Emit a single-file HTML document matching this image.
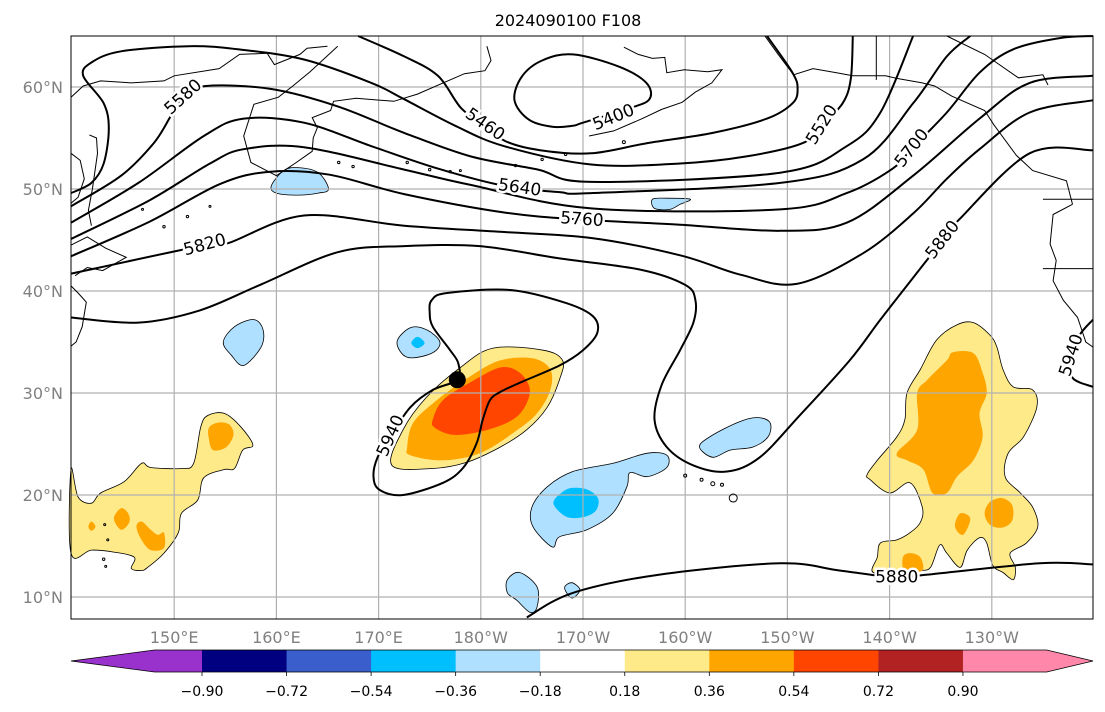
<!DOCTYPE html>
<html><head><meta charset="utf-8">
<style>
html,body{margin:0;padding:0;background:#fff;}
svg{display:block;font-family:"DejaVu Sans","Liberation Sans",sans-serif;}
</style></head>
<body>
<svg id="chart" xmlns="http://www.w3.org/2000/svg" width="1105" height="712" viewBox="0 0 1105 712">
<rect x="0" y="0" width="1105" height="712" fill="#fff"/>
<text x="568" y="26" text-anchor="middle" font-size="16" fill="#000">2024090100 F108</text>
<g id="fills"></g>
<g id="grid"></g>
<g id="coast"></g>
<g id="contours"></g>
<g id="labels"></g>
<rect x="71" y="36" width="1022" height="583" fill="none" stroke="#000" stroke-width="1"/>
<g id="axes"></g>
<g id="cbar"></g>
</svg>
<script>
// ---- axis extents ----
const lonMin = 140, lonMax = 240, latMin = 7.84, latMax = 65;
const lonTicks = [150,160,170,180,190,200,210,220,230];
const lonTickLabels = ["150°E","160°E","170°E","180°W","170°W","160°W","150°W","140°W","130°W"];
const latTicks = [60,50,40,30,20,10];
const latTickLabels = ["60°N","50°N","40°N","30°N","20°N","10°N"];

// ---- contour data (lon east, lat) ----
const contourLevels = [5460,5400,5520,5580,5640,5700,5760,5820,5880,5940,5940,5880];
const c5460 = [[168.0,65],[172.5,63.0],[175.8,61.1],[178.1,57.9],[180.4,56.3],[182.4,54.7],[185.8,53.8],[190.8,53.5],[196.3,54.5],[202.7,55.5],[208.0,56.9],[210.5,58.4],[211.0,59.8],[210.5,61.4],[208.0,65]];
const c5400 = [[183.3,58.7],[184.0,61.0],[186.0,62.6],[189.0,63.2],[193.5,62.0],[196.2,60.4],[196.5,58.8],[194.5,57.9],[190.0,56.5],[189.0,56.2],[187.0,56.1],[184.7,56.8],[183.3,58.7]];
const c5520 = [[139.9,49.6],[141.9,50.6],[143.1,52.5],[143.6,55.9],[143.1,58.4],[141.1,61.1],[141.9,62.4],[144.8,63.5],[151.4,64.0],[156.2,63.7],[162.7,62.7],[169.3,60.4],[172.5,58.8],[177.5,56.2],[182.3,54.2],[190.8,52.4],[199.5,52.5],[206.0,53.2],[211.5,54.5],[213.4,56.3],[215.4,58.4],[216.2,60.8],[216.4,65]];
const c5580 = [[139.9,48.3],[144.8,51.3],[148.0,54.5],[149.7,57.2],[150.9,59.0],[153.1,60.1],[159.5,59.8],[166.0,58.1],[172.5,55.5],[179.0,53.2],[185.6,51.9],[190.8,50.7],[209.3,51.6],[215.8,54.2],[219.1,57.5],[222.3,65]];
const c5640 = [[139.9,46.7],[146.5,50.6],[152.9,55.2],[156.8,56.9],[162.7,56.5],[169.3,54.2],[175.8,52.0],[182.3,50.3],[187.7,49.7],[190.8,49.6],[209.3,50.6],[217.4,52.9],[222.3,58.4],[225.6,63.0],[227.9,65]];
const c5700 = [[139.9,45.1],[147.6,48.9],[153.5,52.5],[156.8,53.9],[162.7,54.1],[172.5,51.9],[179.0,50.4],[190.8,48.1],[209.3,48.0],[215.8,49.6],[220.3,52.0],[222.2,54.0],[225.6,57.5],[228.8,61.4],[232.1,63.7],[236.7,64.8],[239.9,65]];
const c5760 = [[139.9,43.4],[147.6,46.8],[154.5,50.5],[159.4,51.7],[165.2,51.4],[172.5,49.5],[182.3,47.7],[189.9,47.0],[199.5,46.5],[209.3,45.9],[215.8,46.7],[222.3,51.3],[228.8,56.9],[233.7,60.4],[239.9,61.1]];
const c5820 = [[139.9,41.7],[153.0,44.5],[155.3,44.7],[162.7,47.4],[172.5,46.4],[181.9,45.8],[190.8,45.2],[199.5,43.5],[205.4,41.6],[210.9,40.7],[217.4,43.7],[222.3,47.6],[225.6,51.0],[228.8,53.9],[233.7,57.5],[239.9,58.7]];
const c5880 = [[139.9,37.4],[146.5,36.9],[152.5,38.1],[158.4,40.6],[166.0,43.8],[172.5,44.4],[179.9,44.4],[187.7,43.2],[195.6,42.1],[200.0,40.6],[201.0,39.1],[200.8,36.9],[199.5,34.2],[197.7,30.8],[197.0,27.4],[198.2,24.7],[200.8,22.9],[204.1,22.3],[207.3,23.7],[211.2,27.8],[216.1,33.2],[219.1,37.2],[222.3,41.3],[225.2,45.0],[226.9,47.1],[233.7,53.5],[239.9,53.8]];
const c5940a = [[175.0,37.9],[175.2,39.1],[176.7,39.8],[182.9,40.1],[188.4,38.8],[191.0,37.5],[191.4,35.9],[190.0,34.2],[187.7,32.7],[183.8,31.0],[181.9,30.1],[180.9,29.3],[180.2,27.4],[179.6,25.1],[178.3,22.7],[176.3,21.2],[172.4,20.0],[170.1,20.5],[169.5,21.8],[169.9,23.7],[171.2,25.8],[173.1,28.6],[175.3,30.3],[177.7,31.3],[177.8,32.9],[177.0,34.2],[175.3,36.5],[175.0,37.9]];
const c5940b = [[239.9,37.2],[238.6,35.7],[237.8,33.7],[237.9,31.5],[239.9,30.6]];
const c5880s = [[184.5,8.0],[189.0,10.4],[197.5,12.2],[209.3,13.3],[215.1,12.6],[220.7,11.9],[223.7,12.2],[234.7,13.3],[239.9,13.2]];
const contourLines = [c5460,c5400,c5520,c5580,c5640,c5700,c5760,c5820,c5880,c5940a,c5940b,c5880s];
const contourClosed = [false,true,false,false,false,false,false,false,false,true,false,false];

const labelText = ["5580","5460","5400","5520","5640","5700","5760","5820","5880","5940","5940","5880"];
const labelPos = [[150.9,59.0],[180.4,56.3],[193.0,57.0],[213.4,56.3],[183.8,50.1],[222.2,54.0],[189.9,47.0],[153.0,44.5],[225.2,45.0],[237.8,33.7],[171.2,25.8],[220.7,11.9]];
const labelAngle = [-42,35,-22,-58,8,-52,4,-15,-52,-72,-66,0];

const centerDot = [177.7,31.3];

// ---- anomaly fill data ----
const yellowMain = [[171.3,22.9],[172.4,26.4],[174.7,29.6],[178.0,32.5],[181.2,34.4],[186.1,34.2],[188.0,33.2],[187.7,31.3],[186.5,28.6],[184.5,26.4],[181.9,24.7],[178.6,23.2],[175.3,22.6]];
const orangeMain = [[172.8,24.7],[173.4,27.1],[175.7,29.3],[178.9,31.6],[181.9,33.2],[185.1,33.4],[186.8,32.3],[186.8,30.3],[185.5,28.0],[183.2,26.1],[179.9,24.1],[176.3,23.4],[173.1,23.9]];
const redMain = [[175.3,27.4],[176.3,29.3],[178.9,31.0],[181.9,32.5],[183.8,32.0],[184.8,30.3],[184.1,28.3],[182.6,27.1],[179.9,26.2],[177.3,25.9],[175.5,26.6]];
const yellowWest = [[139.9,22.5],[140.6,19.8],[141.9,19.2],[142.8,20.2],[145.1,21.3],[146.8,23.1],[147.7,22.7],[150.7,22.6],[151.9,23.1],[152.6,26.7],[153.3,27.8],[154.9,28.0],[156.5,26.7],[157.7,24.9],[156.7,24.4],[155.9,22.6],[154.9,22.5],[152.9,21.7],[152.3,19.5],[150.7,18.2],[150.4,16.3],[149.0,14.3],[147.4,12.9],[146.8,12.6],[145.8,12.8],[146.1,13.9],[144.1,14.4],[141.9,14.6],[139.9,14.3]];
const orangeWestA = [[153.4,26.6],[154.3,27.1],[155.4,26.9],[155.8,25.9],[155.1,24.7],[153.8,24.4],[153.4,25.5]];
const orangeWestB = [[144.1,17.7],[144.8,18.7],[145.5,18.2],[145.6,17.3],[144.8,16.6]];
const orangeWestC = [[146.3,16.9],[146.8,17.4],[147.7,16.6],[148.4,16.1],[149.0,16.3],[149.0,14.8],[147.7,14.6],[146.8,15.6]];
const orangeWestD = [[141.6,16.9],[141.9,17.4],[142.3,16.9],[141.9,16.5]];
const yellowEast = [[217.8,22.0],[218.8,23.4],[220.7,25.7],[221.5,27.4],[221.7,30.0],[223.0,32.3],[224.6,35.2],[226.6,36.7],[228.2,36.9],[229.8,35.7],[230.5,34.5],[231.1,32.3],[232.1,30.6],[234.0,30.3],[234.4,28.6],[233.1,25.7],[231.6,24.1],[231.3,21.8],[232.8,20.2],[234.0,18.8],[234.5,16.9],[233.4,15.3],[231.8,14.3],[232.3,12.9],[232.1,11.7],[231.1,12.4],[230.1,13.1],[229.5,15.3],[228.8,15.8],[227.6,14.6],[226.9,12.9],[225.6,14.3],[224.9,15.1],[224.0,12.9],[223.0,12.6],[221.3,12.4],[218.4,12.4],[218.8,13.9],[219.1,15.3],[220.7,15.6],[222.0,16.3],[223.0,17.3],[223.2,18.8],[222.0,21.2],[220.0,20.2],[218.1,21.5]];
const orangeEastA = [[220.7,24.1],[222.7,26.4],[222.7,30.0],[223.7,31.3],[225.6,33.2],[226.2,34.0],[228.2,33.9],[229.1,32.0],[229.5,30.0],[228.8,28.0],[229.1,25.7],[228.2,23.4],[226.6,21.8],[225.6,20.2],[224.2,20.2],[223.3,22.5],[221.7,23.4]];
const orangeEastB = [[229.3,18.2],[229.8,19.3],[231.0,19.7],[232.0,19.0],[232.0,17.5],[231.0,16.8],[229.8,17.1]];
const orangeEastC = [[226.4,16.9],[226.9,18.2],[227.9,17.7],[227.2,16.1]];
const orangeEastD = [[221.3,13.9],[222.0,14.3],[223.0,13.9],[223.2,12.6],[221.5,12.5]];
const blueA = [[171.8,35.0],[173.1,36.4],[174.7,36.2],[176.0,35.0],[175.2,33.9],[172.8,33.5]];
const deepA = [[173.2,34.9],[173.8,35.5],[174.5,34.9],[173.8,34.4]];
const blueB = [[185.0,18.8],[186.5,20.8],[189.0,22.3],[192.9,23.1],[196.3,24.1],[198.2,23.9],[198.2,22.7],[196.3,21.8],[194.6,22.2],[194.3,20.8],[192.9,18.2],[190.4,16.6],[187.7,15.9],[187.0,14.9],[185.1,16.9]];
const deepB = [[187.1,19.2],[188.0,20.3],[189.0,20.7],[190.5,20.5],[191.5,19.6],[191.2,18.4],[189.9,17.8],[188.3,17.9]];
const blueC = [[201.4,24.7],[202.4,25.7],[205.1,27.1],[207.0,27.6],[208.3,27.1],[208.1,25.7],[206.6,24.7],[204.4,24.4],[202.7,23.7]];
const blueD = [[182.6,11.7],[183.8,12.4],[185.5,11.0],[185.5,9.0],[184.8,8.5],[183.5,9.7],[182.6,10.4]];
const blueE = [[188.2,10.9],[188.9,11.4],[189.7,10.7],[188.9,9.9]];
const blueF = [[154.8,35.0],[155.9,36.5],[157.8,37.2],[158.7,36.2],[158.5,34.5],[156.8,32.7],[155.6,33.7]];
const blueG = [[159.5,50.3],[160.7,51.8],[162.1,52.1],[164.1,51.6],[165.1,50.0],[164.1,49.6],[162.1,49.4],[160.0,49.6]];
const blueH = [[196.8,49.0],[198.2,49.1],[200.5,49.0],[199.5,48.5],[198.5,48.0],[197.0,48.1]];

// ---- colorbar data ----
const cbBounds = [-0.90,-0.72,-0.54,-0.36,-0.18,0.18,0.36,0.54,0.72,0.90];
const cbTickLabels = ["−0.90","−0.72","−0.54","−0.36","−0.18","0.18","0.36","0.54","0.72","0.90"];
const cbColors = ["#9932cc","#000080","#3a5fcd","#00bfff","#b0e0ff","#ffffff","#ffea8a","#ffa500","#ff4500","#b22222","#ff88aa"];

// ---- coastlines (lon, lat) ----
const coastLines = [
 [[139.9,59.0],[141.1,60.1],[142.8,60.6],[145.8,60.4],[149.0,60.6],[150.0,61.1],[154.4,61.8],[156.4,63.2],[159.1,63.3],[159.8,62.2],[162.3,63.2],[163.0,63.8],[165.0,64.0]],
 [[166.0,64.0],[163.3,61.5],[161.6,60.1],[160.2,59.0],[157.8,58.3],[156.8,55.2],[157.5,52.6],[160.0,51.3],[161.8,52.5],[163.5,53.7],[163.6,55.0],[164.0,56.0],[163.5,57.0],[165.3,57.7],[165.6,58.6],[167.8,58.9],[171.5,58.6],[173.8,59.3],[178.4,61.3],[180.4,61.6],[181.0,62.6],[180.6,64.0]],
 [[141.7,55.3],[142.4,55.0],[142.5,53.5],[142.0,50.0],[141.6,47.9],[141.9,46.4]],
 [[139.9,44.5],[141.5,45.3],[143.3,44.2],[145.3,43.3],[143.0,42.0],[141.5,42.3],[140.3,41.5]],
 [[139.9,40.5],[140.6,39.8],[141.4,38.9],[141.0,36.5],[140.4,35.0],[139.9,34.6]],
 [[139.9,53.5],[140.8,52.8],[141.2,51.0],[140.6,49.2],[139.9,48.6]],
 [[194.0,63.9],[195.4,63.2],[196.8,62.8],[198.0,62.9],[198.2,61.4],[199.9,61.7],[202.2,61.5],[203.6,61.7],[202.6,60.4],[201.0,59.5],[199.7,58.5],[197.7,57.8],[195.8,56.9],[193.0,55.7],[190.6,55.2]],
 [[207.8,65],[209.1,63.2],[210.6,61.2],[212.5,61.8],[214.8,61.4],[216.4,61.1],[219.6,61.1],[220.9,60.8],[223.2,60.4],[224.4,60.1],[226.1,59.1],[229.3,57.7],[230.2,56.3],[232.4,53.3],[234.0,51.8],[237.3,50.8],[237.9,48.5]],
 [[218.7,65],[218.7,60.7]],
 [[225.6,65],[229.3,63.2],[232.6,60.9],[235.0,61.2],[235.5,60.2]],
 [[237.9,48.5],[236.0,47.5],[235.7,44.6],[236.3,43.0],[236.0,41.0],[237.0,39.1],[238.4,37.4],[239.2,35.0],[239.9,34.5]],
 [[235.0,49.0],[239.9,49.0]],
 [[235.0,42.2],[239.9,42.2]]
];
const islandDots = [[200.0,21.9,1.5],[201.6,21.5,1.5],[202.7,21.1,2],[203.6,21.0,1.5],[204.7,19.7,4],[166.1,52.6,1.2],[167.5,52.2,1.2],[172.8,52.6,1.2],[175.0,51.9,1.2],[177.0,51.7,1.2],[178.0,51.8,1],[183.4,52.3,1.2],[186.0,52.9,1.2],[188.3,53.4,1.2],[194.0,54.6,1.5],[146.9,48.0,1],[149.0,46.3,1.2],[151.3,47.3,1.2],[153.5,48.3,1],[143.2,17.1,1],[143.5,15.6,1],[143.1,13.7,1.2],[143.3,13.0,1]];

// ---- scales ----
function X(lon){ return 72 + (lon - lonMin) * 10.22; }
function Y(lat){ return 36 + (latMax - lat) * 10.2; }
function smoothPath(arr, closed){
  const p = arr.map(a => [X(a[0]), Y(a[1])]);
  if (closed && p.length>2){ const f=p[0], l=p[p.length-1]; if (Math.abs(f[0]-l[0])<0.01 && Math.abs(f[1]-l[1])<0.01) p.pop(); }
  const n = p.length;
  const get = i => closed ? p[(i+n)%n] : p[Math.max(0,Math.min(n-1,i))];
  let d = 'M'+p[0][0].toFixed(1)+','+p[0][1].toFixed(1);
  const segs = closed ? n : n-1;
  for (let i=0;i<segs;i++){
    const p0=get(i-1), p1=get(i), p2=get(i+1), p3=get(i+2);
    const c1=[p1[0]+(p2[0]-p0[0])/6, p1[1]+(p2[1]-p0[1])/6];
    const c2=[p2[0]-(p3[0]-p1[0])/6, p2[1]-(p3[1]-p1[1])/6];
    d += ' C'+c1[0].toFixed(1)+','+c1[1].toFixed(1)+' '+c2[0].toFixed(1)+','+c2[1].toFixed(1)+' '+p2[0].toFixed(1)+','+p2[1].toFixed(1);
  }
  if (closed) d += ' Z';
  return d;
}
function pts(arr){ return arr.map(p => X(p[0]).toFixed(1)+','+Y(p[1]).toFixed(1)).join(' '); }
const NS = 'http://www.w3.org/2000/svg';
function mk(tag, attrs, parent){ const e=document.createElementNS(NS,tag); for(const k in attrs) e.setAttribute(k,attrs[k]); parent.appendChild(e); return e; }

// fills
const fillsG = document.getElementById('fills');
function poly(arr, fill, stroke, name){
  const e = mk('path',{d:smoothPath(arr,true),fill:fill,stroke:stroke?'#000':'none','stroke-width':stroke?0.8:0,'stroke-linejoin':'round'},fillsG);
  
  
}
poly(yellowMain,'#ffea8a',true,'fill-yellow-central');
poly(orangeMain,'#ffa500',false,'fill-orange-central');
poly(redMain,'#ff4500',false,'fill-red-central');
poly(yellowWest,'#ffea8a',true,'fill-yellow-west');
poly(orangeWestA,'#ffa500',false,'fill-orange-west-a');
poly(orangeWestB,'#ffa500',false,'fill-orange-west-b');
poly(orangeWestC,'#ffa500',false,'fill-orange-west-c');
poly(orangeWestD,'#ffa500',false,'fill-orange-west-d');
poly(yellowEast,'#ffea8a',true,'fill-yellow-east');
poly(orangeEastA,'#ffa500',false,'fill-orange-east-a');
poly(orangeEastB,'#ffa500',false,'fill-orange-east-b');
poly(orangeEastC,'#ffa500',false,'fill-orange-east-c');
poly(orangeEastD,'#ffa500',false,'fill-orange-east-d');
poly(blueA,'#b0e0ff',true,'fill-blue-a');
poly(deepA,'#00bfff',false,'fill-deepblue-a');
poly(blueB,'#b0e0ff',true,'fill-blue-b');
poly(deepB,'#00bfff',false,'fill-deepblue-b');
poly(blueC,'#b0e0ff',true,'fill-blue-c');
poly(blueD,'#b0e0ff',true,'fill-blue-d');
poly(blueE,'#b0e0ff',true,'fill-blue-e');
poly(blueF,'#b0e0ff',true,'fill-blue-f');
poly(blueG,'#b0e0ff',true,'fill-blue-g');
poly(blueH,'#b0e0ff',true,'fill-blue-h');

// grid
const gridG = document.getElementById('grid');
lonTicks.forEach(l => {
  const e = mk('line',{x1:X(l),x2:X(l),y1:36,y2:619,stroke:'#b0b0b0','stroke-width':1.2},gridG);
  
  
});
latTicks.forEach(l => {
  const e = mk('line',{x1:71,x2:1093,y1:Y(l),y2:Y(l),stroke:'#b0b0b0','stroke-width':1.2},gridG);
  
  
});

// coast
const coastG = document.getElementById('coast');
coastLines.forEach(c => {
  const e = mk('polyline',{points:pts(c),fill:'none',stroke:'#000','stroke-width':1},coastG);
  
  
});
islandDots.forEach(d => {
  const e = mk('circle',{cx:X(d[0]),cy:Y(d[1]),r:d[2],fill:'none',stroke:'#000','stroke-width':1},coastG);
  
  
});

// contours
const contG = document.getElementById('contours');
contourLines.forEach((c,i) => {
  const e = mk('path',{d:smoothPath(c,contourClosed[i]),fill:'none',stroke:'#000','stroke-width':2,'stroke-linejoin':'round'},contG);
  
  
});
const dot = mk('circle',{cx:X(centerDot[0]),cy:Y(centerDot[1]),r:8.5,fill:'#000'},contG);



// contour labels
const labG = document.getElementById('labels');
labelText.forEach((t,i) => {
  const x = X(labelPos[i][0]), y = Y(labelPos[i][1]);
  const e = mk('text',{x:x,y:y,'text-anchor':'middle','dominant-baseline':'central','font-size':17,fill:'#000',stroke:'#fff','stroke-width':5,'paint-order':'stroke',transform:'rotate('+labelAngle[i]+' '+x+' '+y+')'},labG);
  e.textContent = t;
  
  
});

// axes labels
const axG = document.getElementById('axes');
lonTicks.forEach((l,i) => {
  const e = mk('text',{x:X(l),y:643,'text-anchor':'middle','font-size':16,fill:'#808080'},axG);
  e.textContent = lonTickLabels[i];
  
  
});
latTicks.forEach((l,i) => {
  const e = mk('text',{x:63,y:Y(l)+6,'text-anchor':'end','font-size':16,fill:'#808080'},axG);
  e.textContent = latTickLabels[i];
  
  
});

// colorbar
const cbG = document.getElementById('cbar');
const cbX0 = 202, cbW = 84.55, cbTop = 650, cbBot = 672;
function CBX(k){ return cbX0 + k * cbW; }
const nB = cbBounds.length;
const leftTri = mk('polygon',{points:`71,661 ${CBX(-0.56)},${cbTop} ${CBX(0)},${cbTop} ${CBX(0)},${cbBot} ${CBX(-0.56)},${cbBot}`,fill:cbColors[0]},cbG);


for(let k=0;k<nB-1;k++){
  const e = mk('rect',{x:CBX(k),y:cbTop,width:cbW+0.5,height:cbBot-cbTop,fill:cbColors[k+1]},cbG);
  
  
}
const rightTri = mk('polygon',{points:`${CBX(nB-1)},${cbTop} ${CBX(nB-1+0.99)},${cbTop} 1093,661 ${CBX(nB-1+0.99)},${cbBot} ${CBX(nB-1)},${cbBot}`,fill:cbColors[cbColors.length-1]},cbG);


const outline = mk('polygon',{points:`71,661 ${CBX(-0.56)},${cbTop} ${CBX(nB-1+0.99)},${cbTop} 1093,661 ${CBX(nB-1+0.99)},${cbBot} ${CBX(-0.56)},${cbBot}`,fill:'none',stroke:'#000','stroke-width':0.8},cbG);


cbBounds.forEach((v,k) => {
  const t = mk('line',{x1:CBX(k),x2:CBX(k),y1:cbBot,y2:cbBot+4,stroke:'#000','stroke-width':0.8},cbG);
  
  
  const e = mk('text',{x:CBX(k),y:696,'text-anchor':'middle','font-size':14,fill:'#000'},cbG);
  e.textContent = cbTickLabels[k];
  
  
});
</script>
</body></html>
